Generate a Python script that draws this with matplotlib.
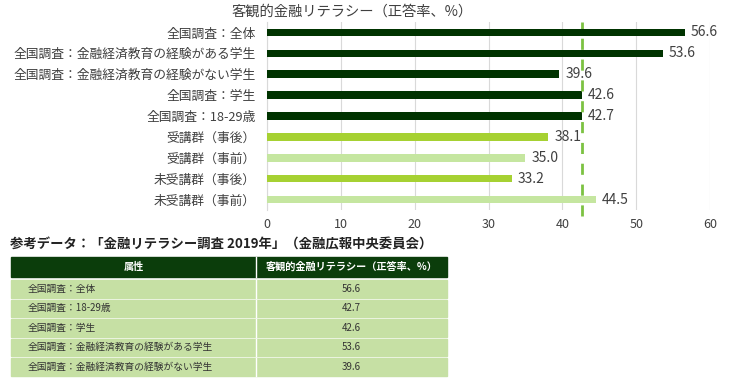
import matplotlib
matplotlib.use("Agg")
import matplotlib.pyplot as plt
from matplotlib.patches import Rectangle

plt.rcParams['font.family'] = ['Noto Sans CJK JP', 'DejaVu Sans']

# ---------------------------------------------
# data
# ---------------------------------------------
categories = [
    "全国調査：全体",
    "全国調査：金融経済教育の経験がある学生",
    "全国調査：金融経済教育の経験がない学生",
    "全国調査：学生",
    "全国調査：18-29歳",
    "受講群（事後）",
    "受講群（事前）",
    "未受講群（事後）",
    "未受講群（事前）",
]
values = [56.6, 53.6, 39.6, 42.6, 42.7, 38.1, 35.0, 33.2, 44.5]
groups = ["national"] * 5 + ["post", "pre", "post", "pre"]
ref_value = 42.7

title = "客観的金融リテラシー（正答率、%）"
table_title = "参考データ：「金融リテラシー調査 2019年」（金融広報中央委員会）"
table_header = ["属性", "客観的金融リテラシー（正答率、%）"]
table_rows = ["全国調査：全体", "全国調査：18-29歳", "全国調査：学生",
              "全国調査：金融経済教育の経験がある学生",
              "全国調査：金融経済教育の経験がない学生"]
table_vals = ["56.6", "42.7", "42.6", "53.6", "39.6"]

colors = {"national": "#003300", "post": "#a6d132", "pre": "#c5e6a0"}

W, H = 750, 383
fig = plt.figure(figsize=(7.5, 3.83), dpi=100)

# ---------------------------------------------
# bar chart
# ---------------------------------------------
ax = fig.add_axes([267 / W, 1 - 210 / H, (710 - 267) / W, 188 / H])
ypos = list(range(len(categories)))
ax.barh(ypos, values, height=0.36,
        color=[colors[g] for g in groups], zorder=3)
for y, v in zip(ypos, values):
    ax.text(v + 0.8, y, f"{v:.1f}", va="center", ha="left",
            fontsize=10, color="#404040", zorder=5)
ax.axvline(ref_value, color="#7cc242", linewidth=2, linestyle=(0, (4, 3.5)),
           ymin=-0.03, zorder=4, clip_on=False)

ax.set_xlim(0, 60)
ax.set_ylim(8.5, -0.5)
ax.set_yticks(ypos)
ax.set_yticklabels(categories, fontsize=9.2, color="#404040")
ax.set_xticks(range(0, 61, 10))
ax.tick_params(axis="x", labelsize=9, colors="#404040", length=0, pad=6)
ax.tick_params(axis="y", length=0, pad=8)
ax.grid(axis="x", color="#d9d9d9", linewidth=0.8, zorder=0)
for s in ["top", "right", "bottom"]:
    ax.spines[s].set_visible(False)
ax.spines["left"].set_color("#d9d9d9")

fig.text(352 / W, 1 - 12 / H, title, ha="center", va="center",
         fontsize=10.3, color="#404040")

# ---------------------------------------------
# reference table
# ---------------------------------------------
fig.text(10 / W, 1 - 245 / H, table_title, ha="left", va="center",
         fontsize=9.6, fontweight="bold", color="#222222")

tax = fig.add_axes([0, 0, 1, 1])
tax.set_xlim(0, W)
tax.set_ylim(H, 0)
tax.axis("off")

x0, xs, x1 = 11, 256, 447
tax.add_patch(Rectangle((x0, 257), x1 - x0, 20, color="#0b3d0b"))
tax.plot([xs, xs], [257, 277], color="white", linewidth=1)
tax.text((x0 + xs) / 2, 267, table_header[0], ha="center", va="center",
         fontsize=7.3, color="white", fontweight="bold")
tax.text((xs + x1) / 2, 267, table_header[1], ha="center", va="center",
         fontsize=7.3, color="white", fontweight="bold")

row_top = 280
row_h = 19.5
for i, (lab, val) in enumerate(zip(table_rows, table_vals)):
    yt = row_top + i * row_h
    tax.add_patch(Rectangle((x0, yt), x1 - x0, row_h - 2, color="#c6e0a4"))
    tax.plot([xs, xs], [yt, yt + row_h - 2], color="white", linewidth=1)
    tax.text(28, yt + (row_h - 2) / 2, lab, ha="left", va="center",
             fontsize=7, color="#333333")
    tax.text((xs + x1) / 2, yt + (row_h - 2) / 2, val, ha="center",
             va="center", fontsize=7, color="#333333")

fig.savefig("out.png", dpi=100)
